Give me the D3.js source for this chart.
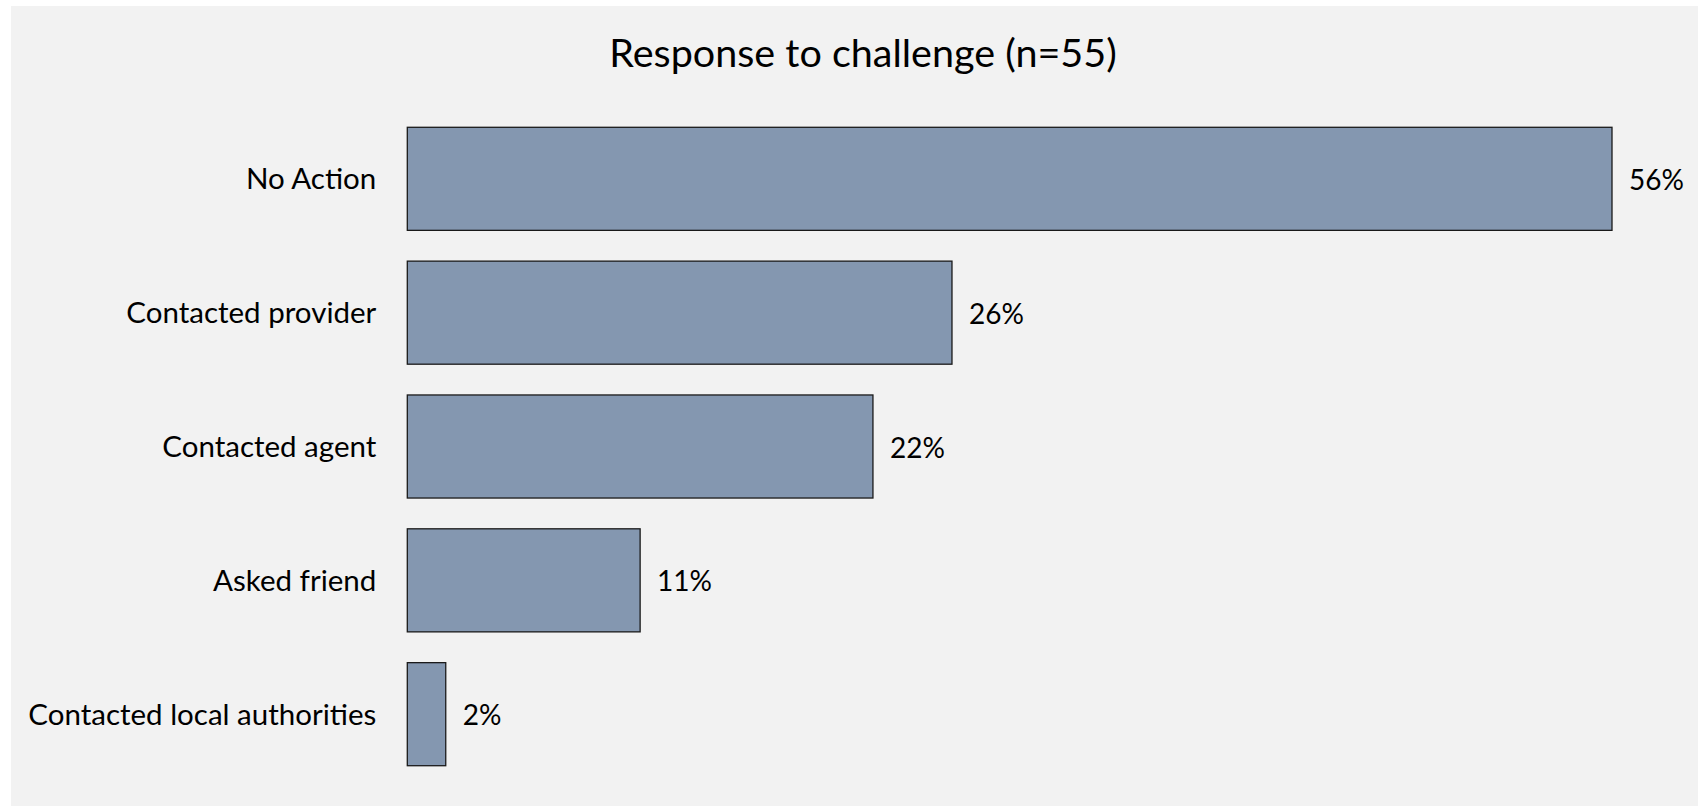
<!DOCTYPE html>
<html>
<head>
<meta charset="utf-8">
<script src="https://cdn.jsdelivr.net/npm/d3@7"></script>
<style>
	body { margin: 0; background: #ffffff; }
	svg { display: block; }
</style>
</head>
<body>
<div id="plot"></div>
<script>
// chart data
var categories = ["No Action", "Contacted provider", "Contacted agent", "Asked friend", "Contacted local authorities"];
var values = [56.4, 25.5, 21.8, 10.9, 1.8];
var title = "Response to challenge (n=55)";

var W = 1698, H = 806;
var plotLeft = 407.3, plotTop = 111.9, plotBottom = 781.1;

var svg = d3.select("#plot").append("svg")
	.attr("width", W)
	.attr("height", H);

// grey panel
svg.append("rect")
	.attr("x", 11).attr("y", 6)
	.attr("width", W - 11).attr("height", H - 6)
	.style("fill", "#f2f2f2");

var x = d3.scaleLinear().domain([0, 60]).range([plotLeft, plotLeft + 21.36 * 60]);
var y = d3.scaleBand().domain(categories).range([plotTop, plotBottom])
	.paddingInner(0.23).paddingOuter(0.115);

var fmt = d3.format(".0f");

svg.append("text")
	.attr("x", 863)
	.attr("y", 67)
	.attr("text-anchor", "middle")
	.style("font-family", "Lato, 'Open Sans', sans-serif")
	.style("font-size", "39.5px")
	.style("fill", "#000")
	.text(title);

var rows = svg.append("g").selectAll("g")
	.data(categories)
	.enter().append("g");

rows.append("rect")
	.attr("x", x(0))
	.attr("y", function(d) { return y(d); })
	.attr("width", function(d, i) { return x(values[i]) - x(0); })
	.attr("height", y.bandwidth())
	.style("fill", "#8497b0")
	.style("stroke", "#1a1a1a")
	.style("stroke-width", 1.3);

// category labels
rows.append("text")
	.attr("x", x(0) - 31)
	.attr("y", function(d) { return y(d) + y.bandwidth() / 2; })
	.attr("dy", "0.36em")
	.attr("text-anchor", "end")
	.style("font-family", "Lato, 'Open Sans', sans-serif")
	.style("font-size", "29.5px")
	.style("fill", "#000")
	.text(function(d) { return d; });

// value labels
rows.append("text")
	.attr("x", function(d, i) { return x(values[i]) + 17; })
	.attr("y", function(d) { return y(d) + y.bandwidth() / 2 + 1; })
	.attr("dy", "0.36em")
	.style("font-family", "Lato, 'Open Sans', sans-serif")
	.style("font-size", "28px")
	.style("fill", "#000")
	.text(function(d, i) { return fmt(values[i]) + "%"; });
</script>
</body>
</html>
